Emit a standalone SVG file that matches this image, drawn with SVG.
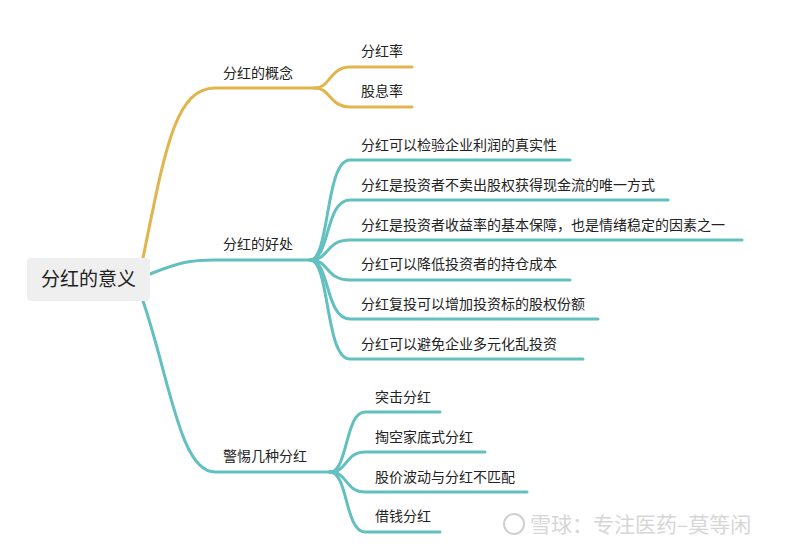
<svg xmlns="http://www.w3.org/2000/svg" width="800" height="551" viewBox="0 0 800 551">
<style>
text{font-family:"Noto Sans CJK SC","Noto Sans",sans-serif;font-size:14px;fill:#222}
.g{fill:none;stroke:#e2b54c;stroke-width:3;stroke-linecap:round}
.t{fill:none;stroke:#62c0c0;stroke-width:3;stroke-linecap:round}
</style>
<rect width="800" height="551" fill="#fff"/>
<g id="connectors">
<path class="g" d="M143,258 C165,150 175,88 215,88 H315"/>
<path class="g" d="M315,88 C330,88 330,67 350,67 H412"/>
<path class="g" d="M315,88 C330,88 330,107 350,107 H412"/>
<path class="t" d="M150,274 C180,262 190,260 215,260 H310"/>
<path class="t" d="M310,260 C330,260 325,160 350,160 H570"/>
<path class="t" d="M310,260 C330,260 325,200 350,200 H668"/>
<path class="t" d="M310,260 C330,260 325,240 350,240 H742"/>
<path class="t" d="M310,260 C330,260 325,280 350,280 H570"/>
<path class="t" d="M310,260 C330,260 325,319 350,319 H598"/>
<path class="t" d="M310,260 C330,260 325,359 350,359 H583"/>
<path class="t" d="M143,301 C170,380 180,472 215,472 H330"/>
<path class="t" d="M330,472 C348,472 345,412 365,412 H440"/>
<path class="t" d="M330,472 C348,472 345,452 365,452 H485"/>
<path class="t" d="M330,472 C348,472 345,492 365,492 H527"/>
<path class="t" d="M330,472 C348,472 345,532 365,532 H440"/>
</g>
<g id="root"><rect x="27" y="258" width="123" height="43" rx="4" fill="#eeefee"/><text x="88.5" y="286" text-anchor="middle" style="font-size:19px">分红的意义</text></g>
<g id="n1"><text x="223" y="78">分红的概念</text></g>
<g id="n1a"><text x="361" y="56">分红率</text></g>
<g id="n1b"><text x="361" y="96">股息率</text></g>
<g id="n2"><text x="223" y="249">分红的好处</text></g>
<g id="n2a"><text x="361" y="150">分红可以检验企业利润的真实性</text></g>
<g id="n2b"><text x="361" y="190">分红是投资者不卖出股权获得现金流的唯一方式</text></g>
<g id="n2c"><text x="361" y="230">分红是投资者收益率的基本保障，也是情绪稳定的因素之一</text></g>
<g id="n2d"><text x="361" y="269">分红可以降低投资者的持仓成本</text></g>
<g id="n2e"><text x="361" y="309">分红复投可以增加投资标的股权份额</text></g>
<g id="n2f"><text x="361" y="349">分红可以避免企业多元化乱投资</text></g>
<g id="n3"><text x="223" y="461">警惕几种分红</text></g>
<g id="n3a"><text x="375" y="402">突击分红</text></g>
<g id="n3b"><text x="375" y="442">掏空家底式分红</text></g>
<g id="n3c"><text x="375" y="482">股价波动与分红不匹配</text></g>
<g id="n3d"><text x="375" y="521">借钱分红</text></g>
<g id="watermark">
<circle cx="514" cy="524" r="10" fill="none" stroke="#d0d0d0" stroke-width="2"/>
<text x="530" y="532" style="font-size:21px;fill:#d6d6d6">雪球：专注医药–莫等闲</text>
</g>
</svg>
